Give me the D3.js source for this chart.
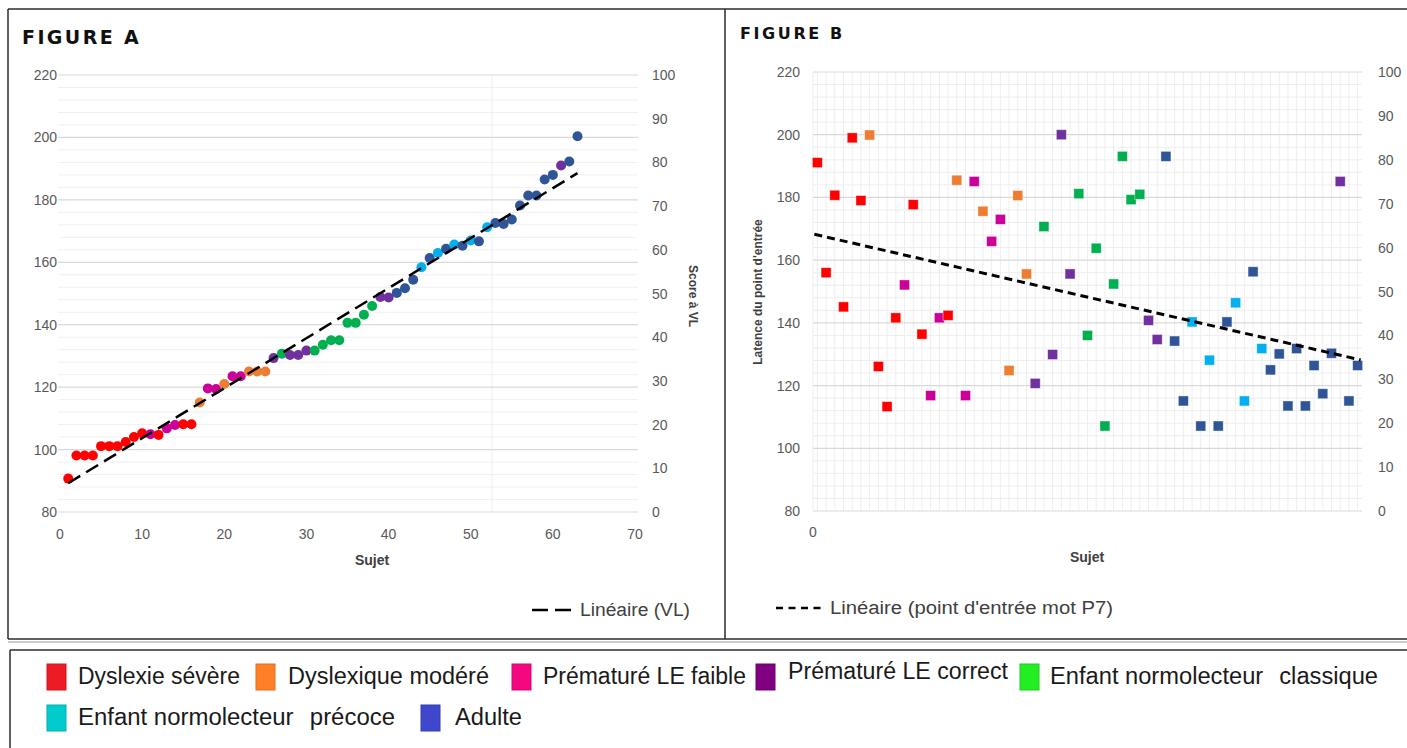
<!DOCTYPE html>
<html><head><meta charset="utf-8">
<script src="https://cdn.jsdelivr.net/npm/d3@7"></script>
<style>body{margin:0;background:#fff;} svg{display:block;}</style>
</head><body><svg id="c" width="1407" height="748"></svg>
<script>
// ---------- DATA ----------
const subjects = [1,2,3,4,5,6,7,8,9,10,11,12,13,14,15,16,17,18,19,20,21,22,23,24,25,26,27,28,29,30,31,32,33,34,35,36,37,38,39,40,41,42,43,44,45,46,47,48,49,50,51,52,53,54,55,56,57,58,59,60,61,62,63];
const groupsA = ["DS","DS","DS","DS","DS","DS","DS","DS","DS","DS","PF","DS","PF","PF","DS","DS","DM","PF","PF","DM","PF","PF","DM","DM","DM","PC","EC","PC","PC","PC","EC","EC","EC","EC","EC","EC","EC","EC","PC","PC","AD","AD","AD","EP","AD","EP","AD","EP","AD","EP","AD","EP","AD","AD","AD","AD","AD","AD","AD","AD","PC","AD","AD"];
const valuesA = [90.7,98.1,98.1,98.1,101.1,101.1,101.1,102.4,104,105.2,104.9,104.7,106.8,107.9,108.1,108.1,115.1,119.6,119.4,121,123.5,123.5,125,125,125,129.3,130.7,130.3,130.3,131.7,131.7,133.6,135,135,140.6,140.6,143.2,146,148.9,148.7,150.2,151.7,154.4,158.4,161.4,163,164.3,165.7,165.3,167,166.7,171.2,172.6,172.3,173.7,178.2,181.4,181.4,186.5,188,191,192.3,200.4];
const groupsB = ["DS","DS","DS","DS","DS","DS","DM","DS","DS","DS","PF","DS","DS","PF","PF","DS","DM","PF","PF","DM","PF","PF","DM","DM","DM","PC","EC","PC","PC","PC","EC","EC","EC","EC","EC","EC","EC","EC","PC","PC","AD","AD","AD","EP","AD","EP","AD","AD","EP","EP","AD","EP","AD","AD","AD","AD","AD","AD","AD","AD","PC","AD","AD"];
const valuesB = [191.1,156,180.7,145.1,199,179,199.9,126.1,113.3,141.6,152.1,177.7,136.4,116.8,141.6,142.4,185.5,116.8,185.1,175.6,166,173,124.8,180.6,155.6,120.7,170.7,129.9,200,155.6,181.2,136,163.8,107.1,152.4,193.1,179.3,181,140.8,134.7,193.1,134.2,115.1,140.3,107.1,128.1,107.1,140.3,146.4,115.1,156.3,131.8,125,130.1,113.5,131.8,113.5,126.4,117.4,130.3,185.1,115.1,126.4];
const leftTicks = [80,100,120,140,160,180,200,220];
const rightTicks = [0,10,20,30,40,50,60,70,80,90,100];
const xTicksA = [0,10,20,30,40,50,60,70];
const groupKeys = ["DS","DM","PF","PC","EC","EP","AD"];
const groupLabels = ["Dyslexie sévère","Dyslexique modéré","Prématuré LE faible","Prématuré LE correct","Enfant normolecteur\u2009\u2009 classique","Enfant normolecteur\u2009\u2009 précoce","Adulte"];
const markerColors = ["#ff0000","#ed7d31","#cc0099","#7030a0","#00b050","#00b0f0","#2f5597"];
const legendColors = ["#ed1c24","#ff7f27","#f5087f","#800080","#22ee22","#00cccc","#3f48cc"];
const titleA = "FIGURE A", titleB = "FIGURE B";
const trendLabelA = "Linéaire (VL)", trendLabelB = "Linéaire (point d'entrée mot P7)";
const yTitleA = "Score à VL", yTitleB = "Latence du point d'entrée", xTitle = "Sujet";

// ---------- SETUP ----------
const FONT = "'Liberation Sans Narrow','Liberation Sans',Arial,sans-serif";
const svg = d3.select("#c");
const mColor = d3.scaleOrdinal(groupKeys, markerColors);
const lColor = d3.scaleOrdinal(groupKeys, legendColors);
const TXT = "#595959";

function linfit(xs, ys){
  const n = xs.length, mx = d3.mean(xs), my = d3.mean(ys);
  let sxy=0, sxx=0;
  for(let i=0;i<n;i++){sxy+=(xs[i]-mx)*(ys[i]-my); sxx+=(xs[i]-mx)**2;}
  const b = sxy/sxx; return {a: my-b*mx, b};
}

// ---------- FRAMES ----------
const fr = svg.append("g").attr("fill","none").attr("stroke","#2b2b2b").attr("stroke-width",1.5);
fr.append("line").attr("x1",8).attr("x2",1407).attr("y1",9).attr("y2",9);
fr.append("line").attr("x1",8).attr("x2",8).attr("y1",9).attr("y2",639);
fr.append("line").attr("x1",725).attr("x2",725).attr("y1",9).attr("y2",639);
fr.append("line").attr("x1",8).attr("x2",1407).attr("y1",639).attr("y2",639);
svg.append("line").attr("x1",8).attr("x2",1407).attr("y1",642).attr("y2",642).attr("stroke","#9a9a9a").attr("stroke-width",1);
fr.append("line").attr("x1",10).attr("x2",1407).attr("y1",650).attr("y2",650);
fr.append("line").attr("x1",10).attr("x2",10).attr("y1",650).attr("y2",748);

// ---------- FIGURE A ----------
{
  const x = d3.scaleLinear().domain([0,70]).range([60,635]);
  const yL = d3.scaleLinear().domain([80,220]).range([512,75]);
  const yR = d3.scaleLinear().domain([0,100]).range([512,75]);
  const g = svg.append("g");
  const minor = d3.range(80,221,4).filter(v => v%20!==0);
  g.selectAll(".mi").data(minor).join("line").attr("x1",58).attr("x2",638)
    .attr("y1",d=>yL(d)).attr("y2",d=>yL(d)).attr("stroke","#f0f0f0").attr("stroke-width",1);
  g.append("line").attr("x1",492).attr("x2",492).attr("y1",75).attr("y2",512).attr("stroke","#efefef");
  g.selectAll(".ma").data(leftTicks).join("line").attr("x1",58).attr("x2",638)
    .attr("y1",d=>yL(d)).attr("y2",d=>yL(d)).attr("stroke","#d9d9d9").attr("stroke-width",1.2);
  g.selectAll(".lt").data(leftTicks).join("text").attr("x",57).attr("y",d=>yL(d)+5)
    .attr("text-anchor","end").attr("font-family",FONT).attr("font-size",14).attr("fill",TXT).text(d=>d);
  g.selectAll(".rt").data(rightTicks).join("text").attr("x",652).attr("y",d=>yR(d)+5)
    .attr("text-anchor","start").attr("font-family",FONT).attr("font-size",14).attr("fill",TXT).text(d=>d);
  g.selectAll(".xt").data(xTicksA).join("text").attr("x",d=>x(d)).attr("y",539)
    .attr("text-anchor","middle").attr("font-family",FONT).attr("font-size",14).attr("fill",TXT).text(d=>d);
  g.append("text").attr("x",372).attr("y",565).attr("text-anchor","middle").attr("font-family",FONT)
    .attr("font-size",14).attr("font-weight","bold").attr("fill","#404040").text(xTitle);
  g.append("text").attr("transform","translate(689,296) rotate(90)").attr("text-anchor","middle").attr("font-family",FONT)
    .attr("font-size",12).attr("font-weight","bold").attr("fill","#404040").text(yTitleA);
  g.append("text").attr("x",22).attr("y",44).attr("font-family","'DejaVu Sans',sans-serif").attr("font-weight","bold")
    .attr("font-size",19).attr("letter-spacing",2.4).attr("fill","#111").text(titleA);
  g.selectAll(".pt").data(subjects).join("circle").attr("cx",(d)=>x(d)).attr("cy",(d,i)=>yL(valuesA[i]))
    .attr("r",5).attr("fill",(d,i)=>mColor(groupsA[i]));
  const f = linfit(subjects, valuesA);
  const x0 = subjects[0], x1 = subjects[subjects.length-1];
  g.append("line").attr("x1",x(x0)).attr("x2",x(x1)).attr("y1",yL(f.a+f.b*x0)).attr("y2",yL(f.a+f.b*x1))
    .attr("stroke","#000").attr("stroke-width",2.5).attr("stroke-dasharray","14,7");
  g.append("line").attr("x1",532).attr("x2",573).attr("y1",610).attr("y2",610)
    .attr("stroke","#000").attr("stroke-width",2.5).attr("stroke-dasharray","16,7");
  g.append("text").attr("x",580).attr("y",616).attr("font-family",FONT).attr("font-size",18).attr("fill","#404040")
    .attr("textLength",110).attr("lengthAdjust","spacingAndGlyphs").text(trendLabelA);
}

// ---------- FIGURE B ----------
{
  const x = d3.scaleBand().domain(subjects).range([813,1362]);
  const cx = d => x(d) + x.bandwidth()/2;
  const yL = d3.scaleLinear().domain([80,220]).range([511,72]);
  const yR = d3.scaleLinear().domain([0,100]).range([511,72]);
  const g = svg.append("g");
  g.selectAll(".vg").data(subjects).join("line").attr("x1",d=>cx(d)).attr("x2",d=>cx(d))
    .attr("y1",72).attr("y2",511).attr("stroke","#eeeeee");
  g.append("line").attr("x1",813).attr("x2",813).attr("y1",72).attr("y2",511).attr("stroke","#eeeeee");
  const minor = d3.range(80,221,4).filter(v => v%20!==0);
  g.selectAll(".mi").data(minor).join("line").attr("x1",813).attr("x2",1362)
    .attr("y1",d=>yL(d)).attr("y2",d=>yL(d)).attr("stroke","#eeeeee");
  g.selectAll(".ma").data(leftTicks).join("line").attr("x1",813).attr("x2",1362)
    .attr("y1",d=>yL(d)).attr("y2",d=>yL(d)).attr("stroke","#d9d9d9").attr("stroke-width",1.2);
  g.selectAll(".lt").data(leftTicks).join("text").attr("x",800).attr("y",d=>yL(d)+5)
    .attr("text-anchor","end").attr("font-family",FONT).attr("font-size",14).attr("fill",TXT).text(d=>d);
  g.selectAll(".rt").data(rightTicks).join("text").attr("x",1378).attr("y",d=>yR(d)+5)
    .attr("text-anchor","start").attr("font-family",FONT).attr("font-size",14).attr("fill",TXT).text(d=>d);
  g.append("text").attr("x",813).attr("y",537).attr("text-anchor","middle").attr("font-family",FONT)
    .attr("font-size",14).attr("fill",TXT).text("0");
  g.append("text").attr("x",1087).attr("y",562).attr("text-anchor","middle").attr("font-family",FONT)
    .attr("font-size",14).attr("font-weight","bold").attr("fill","#404040").text(xTitle);
  g.append("text").attr("transform","translate(762,292) rotate(-90)").attr("text-anchor","middle").attr("font-family",FONT)
    .attr("font-size",12).attr("font-weight","bold").attr("fill","#404040").text(yTitleB);
  g.append("text").attr("x",740).attr("y",39).attr("font-family","'DejaVu Sans',sans-serif").attr("font-weight","bold")
    .attr("font-size",16).attr("letter-spacing",2.6).attr("fill","#111").text(titleB);
  const s = 10;
  g.selectAll(".pt").data(subjects).join("rect").attr("x",d=>cx(d)-s/2).attr("y",(d,i)=>yL(valuesB[i])-s/2)
    .attr("width",s).attr("height",s).attr("fill",(d,i)=>mColor(groupsB[i]))
    .attr("stroke","rgba(255,255,255,0.5)").attr("stroke-width",0.8);
  const f = linfit(subjects, valuesB);
  const x0 = subjects[0], x1 = subjects[subjects.length-1];
  g.append("line").attr("x1",cx(x0)-3).attr("x2",cx(x1)+3).attr("y1",yL(f.a+f.b*(x0-0.35))).attr("y2",yL(f.a+f.b*(x1+0.35)))
    .attr("stroke","#000").attr("stroke-width",3).attr("stroke-dasharray","8,5");
  g.append("line").attr("x1",776).attr("x2",826).attr("y1",608).attr("y2",608)
    .attr("stroke","#000").attr("stroke-width",2.5).attr("stroke-dasharray","7,5.5");
  g.append("text").attr("x",830).attr("y",614).attr("font-family",FONT).attr("font-size",18).attr("fill","#404040")
    .attr("textLength",283).attr("lengthAdjust","spacingAndGlyphs").text(trendLabelB);
}

// ---------- BOTTOM LEGEND ----------
{
  const items = [
    {k:"DS", x:47, y:664, tx:78, ty:684},
    {k:"DM", x:256, y:664, tx:288, ty:684},
    {k:"PF", x:512, y:664, tx:543, ty:684},
    {k:"PC", x:756, y:664, tx:788, ty:679},
    {k:"EC", x:1020, y:664, tx:1050, ty:684},
    {k:"EP", x:47, y:705, tx:78, ty:725},
    {k:"AD", x:421, y:705, tx:455, ty:725}
  ];
  const widths = {DS:162, DM:201, PF:203, PC:220, EC:328, EP:317, AD:67};
  const g = svg.append("g");
  g.selectAll("rect").data(items).join("rect").attr("x",d=>d.x).attr("y",d=>d.y).attr("width",19).attr("height",26)
    .attr("fill",d=>lColor(d.k)).attr("stroke",d=>d3.color(lColor(d.k)).darker(0.4)).attr("stroke-width",1);
  g.selectAll("text").data(items).join("text").attr("x",d=>d.tx).attr("y",d=>d.ty)
    .attr("font-family",FONT).attr("font-size",23).attr("fill","#1a1a1a")
    .attr("textLength",d=>widths[d.k]).attr("lengthAdjust","spacingAndGlyphs")
    .text(d=>groupLabels[groupKeys.indexOf(d.k)]);
}
</script></body></html>
